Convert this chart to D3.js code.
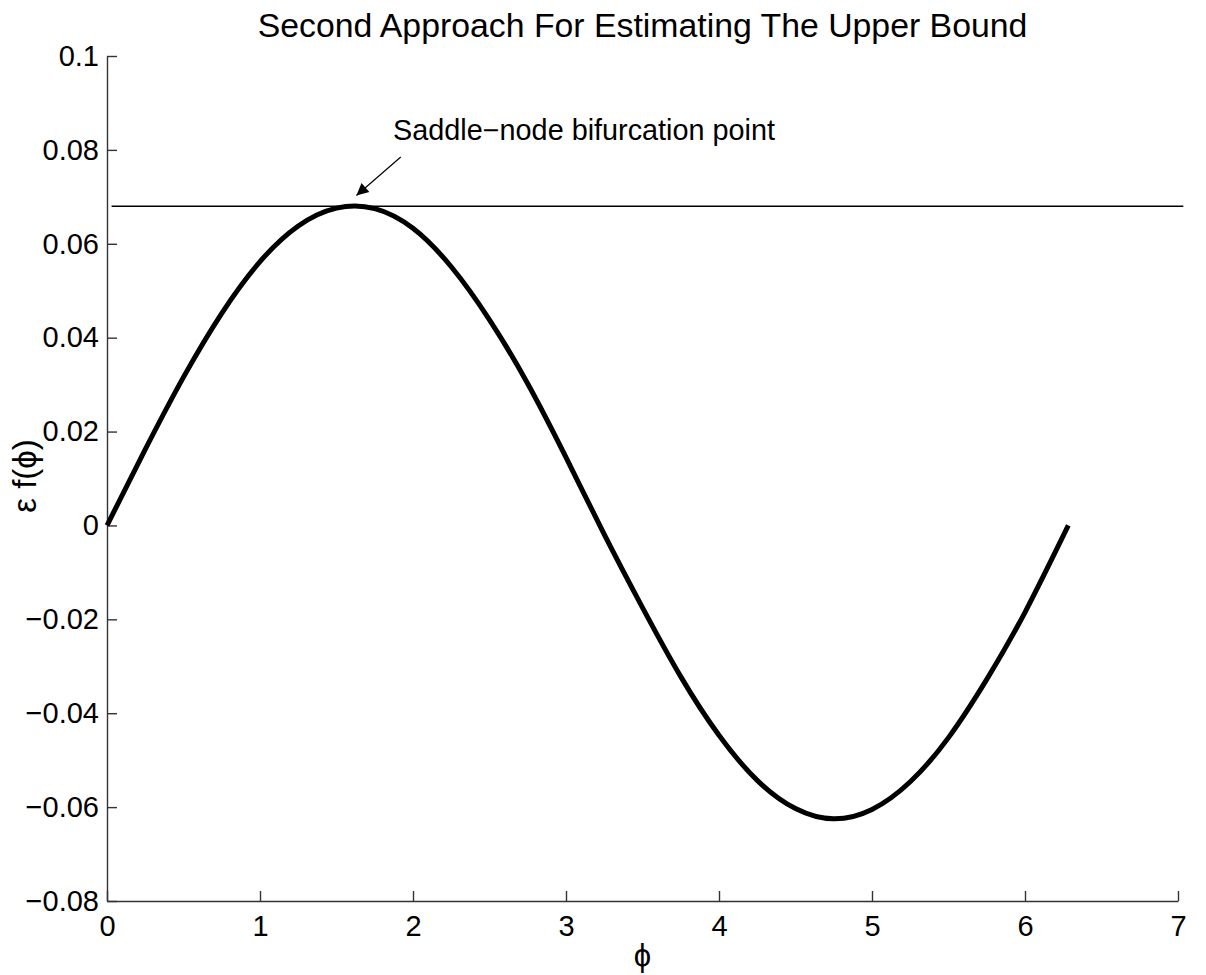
<!DOCTYPE html>
<html>
<head>
<meta charset="utf-8">
<script src="https://cdn.jsdelivr.net/npm/d3@7"></script>
<style>
  body { margin: 0; background: #fff; }
  text { font-family: "Liberation Sans", Arial, Helvetica, sans-serif; fill: #000; }
</style>
</head>
<body>
<svg width="1206" height="975"></svg>
<script>
// phi values (rad) and eps*f(phi)
var phi = [0, 0.25, 0.5, 0.75, 1.0, 1.25, 1.5, 1.75, 2.0, 2.25, 2.5, 2.75, 3.0,
           3.25, 3.5, 3.75, 4.0, 4.25, 4.5, 4.75, 5.0, 5.25, 5.5, 5.75, 6.0, 6.283];
var epsF = [0, 0.0162, 0.0316, 0.0452, 0.0562, 0.0638, 0.0676, 0.0675, 0.0633, 0.0551,
            0.0438, 0.0302, 0.0145, -0.0019, -0.0175, -0.0322, -0.0447, -0.0543, -0.0603,
            -0.0625, -0.0605, -0.0546, -0.0452, -0.0328, -0.0185, 0];

// upper bound line
var boundValue = 0.068;
var boundPhi = [0.03, 7.035];

// saddle node annotation: text anchor and arrow (data coords)
var saddleLabel = "Saddle\u2212node bifurcation point";
var saddleText = [1.87, 0.0822];
var arrowFrom = [1.92, 0.0785];
var arrowTo = [1.63, 0.0703];

var xTicks = [0, 1, 2, 3, 4, 5, 6, 7];
var yTicks = [-0.08, -0.06, -0.04, -0.02, 0, 0.02, 0.04, 0.06, 0.08, 0.1];

var svg = d3.select("svg");

var x = d3.scaleLinear().domain([0, 7]).range([107, 1178]);
var y = d3.scaleLinear().domain([-0.08, 0.1]).range([901, 56]);

function fmt(d) {
  if (d === 0) return "0";
  var s = d3.format("")(+d.toFixed(2));
  return s.replace("-", "\u2212");
}

// axes
var xAxis = svg.append("g")
    .attr("transform", "translate(0," + y(-0.08) + ")")
    .call(d3.axisBottom(x).tickValues(xTicks).tickSizeInner(-10).tickSizeOuter(0).tickPadding(14).tickFormat(fmt));
var yAxis = svg.append("g")
    .attr("transform", "translate(" + x(0) + ",0)")
    .call(d3.axisLeft(y).tickValues(yTicks).tickSizeInner(-10).tickSizeOuter(0).tickPadding(8).tickFormat(fmt));

[xAxis, yAxis].forEach(function(a) {
  a.select(".domain").attr("stroke", "#333").attr("stroke-width", 1.4);
  a.selectAll(".tick line").attr("stroke", "#333").attr("stroke-width", 1.4);
  a.selectAll(".tick text").attr("font-size", 29).attr("fill", "#000")
    .style("font-family", "'Liberation Sans', Arial, sans-serif");
});

// bound line
svg.append("line")
    .attr("x1", x(boundPhi[0])).attr("x2", x(boundPhi[1]))
    .attr("y1", y(boundValue)).attr("y2", y(boundValue))
    .attr("stroke", "#000").attr("stroke-width", 1.5);

// curve
var line = d3.line()
    .x(function(d, i) { return x(phi[i]); })
    .y(function(d) { return y(d); })
    .curve(d3.curveNatural);

svg.append("path")
    .datum(epsF)
    .attr("d", line)
    .attr("fill", "none")
    .attr("stroke", "#000")
    .attr("stroke-width", 5);

// annotation
svg.append("defs").append("marker")
    .attr("id", "arr")
    .attr("viewBox", "0 0 10 10")
    .attr("refX", 10).attr("refY", 5)
    .attr("markerWidth", 16).attr("markerHeight", 12)
    .attr("markerUnits", "userSpaceOnUse")
    .attr("orient", "auto")
  .append("path")
    .attr("d", "M0,0 L10,5 L0,10 Z")
    .attr("fill", "#000");

svg.append("line")
    .attr("x1", x(arrowFrom[0])).attr("y1", y(arrowFrom[1]))
    .attr("x2", x(arrowTo[0])).attr("y2", y(arrowTo[1]))
    .attr("stroke", "#000").attr("stroke-width", 1.2)
    .attr("marker-end", "url(#arr)");

svg.append("text")
    .attr("x", x(saddleText[0])).attr("y", y(saddleText[1]))
    .attr("font-size", 28.8)
    .text(saddleLabel);

// title and labels
svg.append("text")
    .attr("x", (x(0) + x(7)) / 2).attr("y", 37)
    .attr("text-anchor", "middle")
    .attr("font-size", 33.8)
    .text("Second Approach For Estimating The Upper Bound");

svg.append("text")
    .attr("x", (x(0) + x(7)) / 2).attr("y", 966)
    .attr("text-anchor", "middle")
    .attr("font-size", 31)
    .text("\u03d5");

svg.append("text")
    .attr("transform", "translate(36,476) rotate(-90)")
    .attr("text-anchor", "middle")
    .attr("font-size", 33)
    .text("\u03b5 f(\u03d5)");
</script>
</body>
</html>
